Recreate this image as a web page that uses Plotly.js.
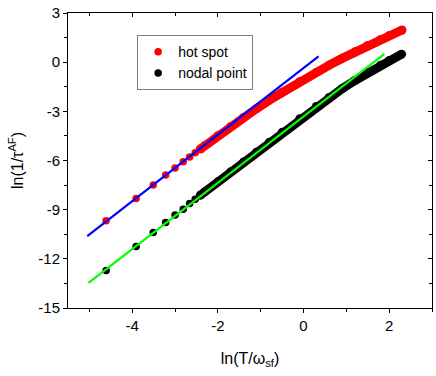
<!DOCTYPE html>
<html>
<head>
<meta charset="utf-8">
<script src="https://cdn.plot.ly/plotly-3.0.1.min.js"></script>
<style>html,body{margin:0;padding:0;background:#fff;}#chart{width:436px;height:376px;}</style>
</head>
<body>
<div id="chart"></div>
<script>
// hot spot: sparse low-T points
const hotX = [-4.61, -3.91, -3.51, -3.22, -3.00, -2.81, -2.66, -2.53, -2.41];
const hotY = [-9.68, -8.32, -7.50, -6.89, -6.45, -6.08, -5.78, -5.53, -5.30];
// hot spot: dense part (appears as a thick band)
const hotBandX = [-2.41, -2.30, -2.0, -1.7, -1.4, -1.1, -0.8, -0.5, -0.09, 0.3, 0.6, 0.9, 1.2, 1.5, 1.8, 2.0, 2.30];
const hotBandY = [-5.30, -5.08, -4.49, -3.92, -3.37, -2.84, -2.32, -1.83, -1.19, -0.61, -0.18, 0.23, 0.63, 1.02, 1.38, 1.62, 1.96];
// nodal point: sparse low-T points
const nodX = [-4.61, -3.91, -3.51, -3.22, -3.00, -2.81, -2.66, -2.53, -2.41];
const nodY = [-12.71, -11.25, -10.39, -9.78, -9.33, -8.97, -8.62, -8.36, -8.12];
// nodal point: dense part
const nodBandX = [-2.41, -2.30, -2.0, -1.7, -1.4, -1.1, -0.8, -0.5, -0.09, 0.3, 0.6, 0.9, 1.2, 1.5, 1.8, 2.0, 2.29];
const nodBandY = [-8.12, -7.90, -7.30, -6.69, -6.09, -5.49, -4.89, -4.28, -3.46, -2.70, -2.15, -1.62, -1.12, -0.64, -0.19, 0.10, 0.49];
// linear fits
const fitHotX = [-5.05, 0.35];
const fitHotY = [-10.62, 0.36];
const fitNodX = [-5.02, 1.89];
const fitNodY = [-13.47, 0.50];
// labels
const seriesNames = ['hot spot', 'nodal point'];
const xTickVals = [-4, -2, 0, 2];
const xTickText = ['-4', '-2', '0', '2'];
const yTickVals = [3, 0, -3, -6, -9, -12, -15];
const yTickText = ['3', '0', '-3', '-6', '-9', '-12', '-15'];

const RED = '#ff0000', BLACK = '#000000';
const traces = [
  {x: hotBandX, y: hotBandY, mode: 'lines+markers', line: {color: RED, width: 9}, marker: {color: RED, size: 9}, showlegend: false, hoverinfo: 'skip'},
  {x: hotX, y: hotY, mode: 'markers', name: seriesNames[0], marker: {color: RED, size: 7.5}},
  {x: nodBandX, y: nodBandY, mode: 'lines+markers', line: {color: BLACK, width: 9}, marker: {color: BLACK, size: 9}, showlegend: false, hoverinfo: 'skip'},
  {x: nodX, y: nodY, mode: 'markers', name: seriesNames[1], marker: {color: BLACK, size: 7.5}},
  {x: fitHotX, y: fitHotY, mode: 'lines', line: {color: '#0000ff', width: 2.2}, showlegend: false},
  {x: fitNodX, y: fitNodY, mode: 'lines', line: {color: '#00ff00', width: 2.2}, showlegend: false},
  // dummy trace for mirrored axes
  {x: [0], y: [0], xaxis: 'x2', yaxis: 'y2', mode: 'markers', marker: {opacity: 0}, showlegend: false, hoverinfo: 'skip'}
];

const font = {family: 'Liberation Sans, Arial, sans-serif', color: '#000'};
const layout = {
  width: 436, height: 376,
  margin: {l: 68, r: 4, t: 13, b: 68},
  paper_bgcolor: '#fff', plot_bgcolor: '#fff',
  font: Object.assign({size: 15}, font),
  showlegend: true,
  legend: {x: 0.19, y: 0.925, xanchor: 'left', yanchor: 'top', bgcolor: '#fff', bordercolor: '#808080', borderwidth: 1, font: Object.assign({size: 14}, font), tracegroupgap: 0},
  xaxis: {
    range: [-5.5, 3], tickvals: xTickVals, ticktext: xTickText, ticks: 'outside', ticklen: 4, tickwidth: 1, tickcolor: '#000',
    minor: {dtick: 1, tick0: 1, ticks: 'outside', ticklen: 3, tickcolor: '#000', showgrid: false},
    showline: true, linecolor: '#000', linewidth: 1, showgrid: false, zeroline: false,
    tickfont: Object.assign({size: 15}, font),
    title: {text: 'ln(T/ω<sub>sf</sub>)', font: Object.assign({size: 16}, font), standoff: 19}
  },
  yaxis: {
    range: [-15, 3], tickvals: yTickVals, ticktext: yTickText, ticks: 'outside', ticklen: 4, tickwidth: 1, tickcolor: '#000',
    minor: {dtick: 1.5, tick0: 1.5, ticks: 'outside', ticklen: 3, tickcolor: '#000', showgrid: false},
    showline: true, linecolor: '#000', linewidth: 1, showgrid: false, zeroline: false,
    tickfont: Object.assign({size: 15}, font),
    title: {text: 'ln(1/τ<sup>AF</sup>)', font: Object.assign({size: 16}, font), standoff: 10}
  },
  xaxis2: {
    overlaying: 'x', side: 'top', range: [-5.5, 3], tickvals: xTickVals, ticks: 'inside', ticklen: 4, tickcolor: '#000',
    minor: {dtick: 1, tick0: 1, ticks: 'inside', ticklen: 3, tickcolor: '#000'},
    showticklabels: false, showline: true, linecolor: '#000', showgrid: false, zeroline: false
  },
  yaxis2: {
    overlaying: 'y', side: 'right', range: [-15, 3], tickvals: yTickVals, ticks: 'inside', ticklen: 4, tickcolor: '#000',
    minor: {dtick: 1.5, tick0: 1.5, ticks: 'inside', ticklen: 3, tickcolor: '#000'},
    showticklabels: false, showline: true, linecolor: '#000', showgrid: false, zeroline: false
  }
};
Plotly.newPlot('chart', traces, layout, {staticPlot: true, displayModeBar: false});
</script>
</body>
</html>
